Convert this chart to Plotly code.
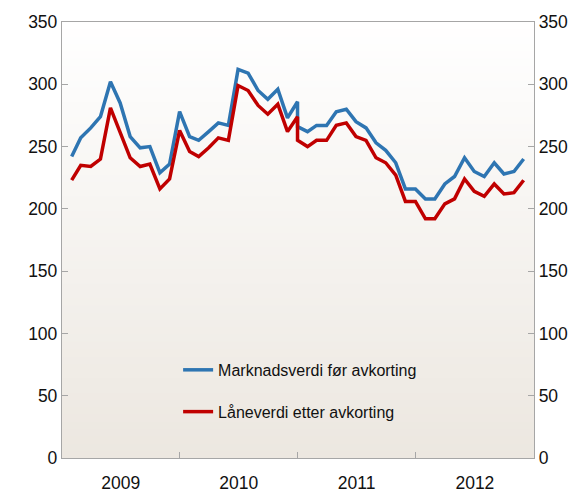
import plotly.graph_objects as go

# Month-end observation dates (Dec 2010 appears twice: break in the series)
dates = [
    "2009-01-31", "2009-02-28", "2009-03-31", "2009-04-30", "2009-05-31", "2009-06-30",
    "2009-07-31", "2009-08-31", "2009-09-30", "2009-10-31", "2009-11-30", "2009-12-31",
    "2010-01-31", "2010-02-28", "2010-03-31", "2010-04-30", "2010-05-31", "2010-06-30",
    "2010-07-31", "2010-08-31", "2010-09-30", "2010-10-31", "2010-11-30", "2010-12-31",
    "2010-12-31",
    "2011-01-31", "2011-02-28", "2011-03-31", "2011-04-30", "2011-05-31", "2011-06-30",
    "2011-07-31", "2011-08-31", "2011-09-30", "2011-10-31", "2011-11-30", "2011-12-31",
    "2012-01-31", "2012-02-29", "2012-03-31", "2012-04-30", "2012-05-31", "2012-06-30",
    "2012-07-31", "2012-08-31", "2012-09-30", "2012-10-31", "2012-11-30",
]

markedsverdi = [
    242, 257, 265, 274, 302, 285, 258, 249, 250, 229, 236, 278,
    258, 255, 262, 269, 267, 312, 309, 295, 288, 296, 273, 286,
    266,
    262, 267, 267, 278, 280, 270, 265, 253, 247, 237, 216, 216,
    208, 208, 220, 226, 241, 230, 226, 237, 228, 230, 240,
]

laneverdi = [
    223, 235, 234, 240, 281, 262, 241, 234, 236, 216, 224, 263,
    246, 242, 249, 257, 255, 299, 295, 283, 276, 284, 262, 274,
    255,
    250, 255, 255, 267, 269, 258, 255, 241, 237, 227, 206, 206,
    192, 192, 204, 208, 224, 214, 210, 220, 212, 213, 223,
]

series_names = ["Marknadsverdi før avkorting", "Låneverdi etter avkorting"]
year_labels = ["2009", "2010", "2011", "2012"]
year_mid = ["2009-07-02", "2010-07-02", "2011-07-02", "2012-07-02"]
year_bounds = ["2010-01-01", "2011-01-01", "2012-01-01"]
y_ticks = [0, 50, 100, 150, 200, 250, 300, 350]

FONT = "Arial, 'Liberation Sans', sans-serif"
AXIS_COL = "#A6A6A6"

fig = go.Figure()
fig.add_trace(go.Scatter(
    x=dates, y=markedsverdi, mode="lines", name=series_names[0],
    line=dict(color="#2E75B2", width=3.5), legendgroup="a",
))
fig.add_trace(go.Scatter(
    x=dates, y=laneverdi, mode="lines", name=series_names[1],
    line=dict(color="#C00000", width=3.5), legendgroup="b", yaxis="y2",
))

# vertical gradient background (white at top -> beige at bottom)
n = 60
top = (255, 255, 255)
bot = (236, 231, 224)
shapes = []
for i in range(n):
    t = (i + 0.5) / n
    c = tuple(round(bot[k] + (top[k] - bot[k]) * t) for k in range(3))
    shapes.append(dict(
        type="rect", xref="paper", yref="paper",
        x0=0, x1=1, y0=i / n, y1=(i + 1) / n + 0.002,
        fillcolor="rgb(%d,%d,%d)" % c, line=dict(width=0), layer="below",
    ))

yax = dict(
    range=[0, 350], tickvals=y_ticks, ticks="inside", ticklen=6,
    tickcolor=AXIS_COL, showline=True, linecolor=AXIS_COL, linewidth=1.3,
    showgrid=False, zeroline=False, tickfont=dict(size=17.5, color="#111"),
    fixedrange=True, automargin=False,
)

fig.update_layout(
    width=575, height=484,
    margin=dict(l=54, r=49, t=14, b=34),
    paper_bgcolor="white", plot_bgcolor="rgba(0,0,0,0)",
    font=dict(family=FONT, color="#111"),
    shapes=shapes,
    showlegend=True,
    legend=dict(
        x=0.246, y=0.241, xanchor="left", yanchor="top",
        bgcolor="rgba(0,0,0,0)", font=dict(size=16, color="#111"),
        tracegroupgap=18, itemwidth=30,
    ),
    xaxis=dict(
        type="date", range=["2009-01-01", "2013-01-01"],
        tickvals=year_mid, ticktext=year_labels,
        ticks="outside", ticklen=9, tickcolor="rgba(0,0,0,0)",
        tickfont=dict(size=17.5, color="#111"),
        showline=True, linecolor=AXIS_COL, linewidth=1.3, mirror=True,
        showgrid=False, zeroline=False, automargin=False,
        minor=dict(tickvals=year_bounds, ticks="inside", ticklen=6,
                   tickcolor=AXIS_COL, showgrid=False),
    ),
    yaxis=dict(side="left", **yax),
    yaxis2=dict(side="right", overlaying="y", matches="y", **yax),
)

fig.write_html("out.html")
